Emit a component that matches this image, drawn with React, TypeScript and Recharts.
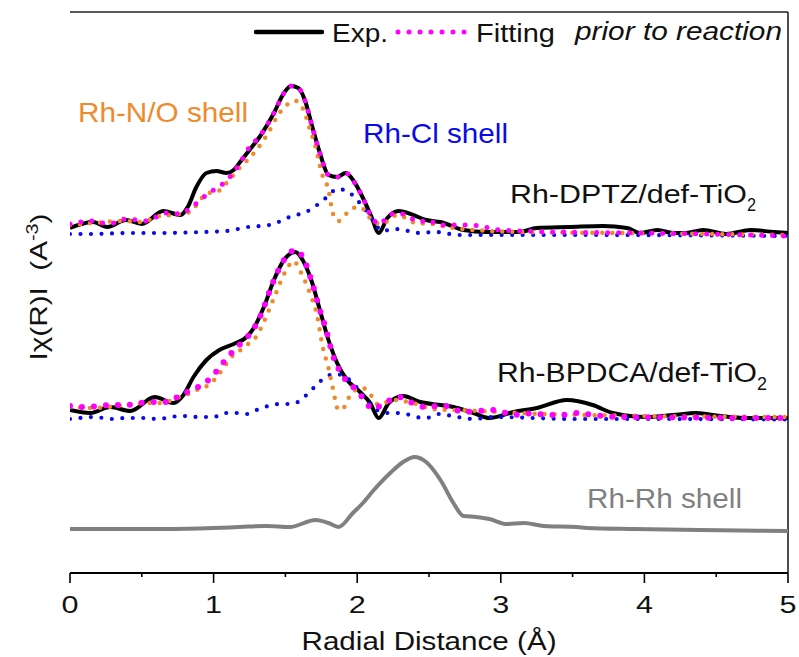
import { LineChart, Line, XAxis, YAxis } from 'recharts';

const FONT = '"Liberation Sans", Arial, sans-serif';
const ORANGE = '#ef8a2c';
const BLUE = '#0a0ae8';
const MAGENTA = '#ff00ff';
const GRAY = '#808080';

// x ticks (major + minor)
const xTicks = [0, 0.5, 1, 1.5, 2, 2.5, 3, 3.5, 4, 4.5, 5];

// Rh-DPTZ/def-TiO2 (offset upper curve)
const dptzExpR = [0, 0.16, 0.26, 0.39, 0.5, 0.65, 0.77, 0.82, 0.88, 0.95, 1.02, 1.09, 1.14, 1.19, 1.25, 1.32, 1.42, 1.49, 1.54, 1.59, 1.64, 1.68, 1.74, 1.8, 1.86, 1.92, 1.98, 2.04, 2.1, 2.15, 2.21, 2.29, 2.39, 2.48, 2.58, 2.74, 2.9, 3.13, 3.25, 3.48, 3.71, 3.88, 3.97, 4.09, 4.2, 4.29, 4.41, 4.57, 4.74, 4.9, 5];
const dptzExpV = [345, 351, 346, 353, 349, 362, 358, 366, 386, 400, 402, 400, 403, 412, 423, 436, 460, 480, 487, 485, 471, 450, 420, 398, 396, 400, 391, 375, 356, 340, 355, 362, 358, 353, 351, 343, 341, 341, 345, 346, 347, 345, 340, 343, 340, 340, 343, 339, 343, 341, 340];

const dptzFitR = [0, 0.08, 0.16, 0.23, 0.31, 0.39, 0.46, 0.53, 0.6, 0.68, 0.77, 0.82, 0.95, 1.02, 1.08, 1.13, 1.2, 1.25, 1.31, 1.42, 1.49, 1.54, 1.59, 1.64, 1.68, 1.74, 1.8, 1.86, 1.92, 1.98, 2.04, 2.1, 2.16, 2.22, 2.29, 2.36, 2.43, 2.5, 2.56, 2.79, 3, 3.4, 4, 4.6, 5];
const dptzFitV = [349, 351, 352, 350, 350, 354, 353, 352, 356, 360, 359, 363, 378, 385, 391, 399, 414, 426, 435, 460, 480, 487, 485, 471, 450, 420, 398, 396, 400, 391, 375, 356, 349, 358, 360, 356, 351, 353, 348, 348, 343, 341, 340, 338.5, 337];

const dptzNOR = [0, 0.09, 0.16, 0.39, 0.49, 0.63, 0.7, 0.84, 0.89, 0.96, 1.02, 1.09, 1.18, 1.23, 1.33, 1.38, 1.45, 1.51, 1.57, 1.62, 1.67, 1.71, 1.75, 1.8, 1.83, 1.87, 1.93, 2, 2.05, 2.1, 2.17, 2.28, 2.41, 2.52, 2.67, 3.13, 3.83, 5];
const dptzNOV = [348, 349, 350, 352, 351, 357, 358, 361, 370, 380, 381, 390, 405, 412, 429, 440, 458, 468, 472, 465, 444, 426, 401, 383, 360, 352, 360, 366, 363, 353, 349, 358, 350, 349, 345, 341, 340, 338];

const dptzClR = [0, 0.16, 0.39, 0.63, 0.93, 1.09, 1.24, 1.39, 1.53, 1.67, 1.73, 1.79, 1.86, 1.93, 1.98, 2.04, 2.1, 2.13, 2.18, 2.25, 2.33, 2.4, 2.55, 2.7, 3.5, 5];
const dptzClV = [339, 339, 340, 340, 341, 342, 346, 348, 356, 363, 369, 376, 384, 382, 376, 366, 355, 348, 342, 344, 343, 340, 341, 338, 338, 337];

// Rh-BPDCA/def-TiO2 (offset middle curve)
const bpdcaExpR = [0, 0.14, 0.28, 0.42, 0.59, 0.72, 0.79, 0.86, 0.95, 1.04, 1.14, 1.23, 1.28, 1.35, 1.42, 1.49, 1.57, 1.62, 1.68, 1.74, 1.8, 1.86, 1.93, 2.02, 2.09, 2.15, 2.22, 2.32, 2.44, 2.58, 2.67, 2.81, 2.92, 3.09, 3.25, 3.46, 3.64, 3.78, 4.02, 4.2, 4.36, 4.53, 4.71, 5];
const bpdcaExpV = [163, 160, 166, 162, 176, 170, 178, 196, 213, 223, 229, 236, 245, 266, 293, 313, 321, 313, 293, 263, 233, 210, 193, 181, 170, 155, 170, 177, 171, 168, 166, 160, 155, 161, 165, 173, 168, 160, 156, 158, 160, 157, 155, 155];

const bpdcaFitR = [0, 0.1, 0.2, 0.3, 0.39, 0.49, 0.59, 0.68, 0.77, 0.86, 0.94, 1.01, 1.07, 1.13, 1.2, 1.27, 1.32, 1.42, 1.49, 1.57, 1.64, 1.68, 1.74, 1.78, 1.83, 1.91, 1.98, 2.04, 2.11, 2.19, 2.29, 2.37, 2.47, 2.56, 2.62, 2.74, 2.84, 2.94, 3.04, 3.13, 3.22, 3.32, 3.41, 3.53, 3.64, 3.83, 4.3, 4.76, 5];
const bpdcaFitV = [167, 166, 167, 168, 168, 170, 171, 171, 178, 184, 190, 200, 211, 221, 231, 242, 255, 293, 313, 323, 310, 293, 263, 245, 218, 195, 185, 175, 164, 170, 176, 171, 166, 167, 167, 161, 162, 163, 160, 158, 160, 158, 158, 160, 158, 156, 155.5, 155, 155];

const bpdcaNOR = [0, 0.16, 0.53, 0.63, 0.76, 0.84, 0.91, 0.97, 1.02, 1.07, 1.11, 1.17, 1.23, 1.29, 1.33, 1.42, 1.51, 1.556, 1.61, 1.67, 1.72, 1.76, 1.8, 1.83, 1.87, 1.91, 1.96, 2.04, 2.1, 2.15, 2.21, 2.28, 2.35, 2.44, 2.51, 2.7, 3, 3.3, 3.6, 4, 5];
const bpdcaNOV = [166, 165, 170, 170, 176, 180, 185, 188, 196, 205, 214, 221, 228, 235, 245, 275, 304, 312, 300, 280, 258, 226, 205, 185, 163, 166, 180, 185, 177, 168, 171, 173, 171, 168, 164, 163, 161, 159, 158, 157, 156];

const bpdcaClR = [0, 0.07, 0.16, 0.3, 0.39, 0.5, 0.62, 0.7, 0.78, 0.9, 1, 1.08, 1.16, 1.23, 1.3, 1.38, 1.46, 1.53, 1.6, 1.66, 1.71, 1.78, 1.85, 1.92, 2, 2.08, 2.2, 2.27, 2.34, 2.41, 2.48, 2.57, 2.66, 2.74, 2.81, 2.95, 3.5, 4, 5];
const bpdcaClV = [154, 155, 156, 154, 155, 155, 154, 156, 157, 156, 156, 160, 160, 159, 163, 167, 169, 169, 172, 180, 187, 196, 199, 196, 185, 170, 160, 160, 159, 156, 155, 159, 157, 155, 154, 156, 154, 154, 153.5];

// Rh-Rh shell reference (bottom curve)
const rhRhR = [0, 0.67, 1, 1.18, 1.37, 1.53, 1.71, 1.8, 1.87, 1.97, 2.04, 2.11, 2.23, 2.32, 2.4, 2.48, 2.58, 2.67, 2.74, 2.83, 2.92, 3.04, 3.16, 3.3, 3.53, 3.6, 3.92, 4.39, 5];
const rhRhV = [44, 44, 45, 46, 47, 46, 53, 50, 46, 60, 70, 82, 100, 111, 116, 111, 93, 70, 57, 56, 54, 49, 50, 47, 46, 45, 44, 43, 42];

const toPoints = (r: number[], v: number[]) => r.map((x, i) => ({ r: x, v: v[i] }));

const XTick = (props: any) => {
  const { x, y, payload } = props;
  const major = Number.isInteger(payload.value);
  return (
    <g>
      <line x1={x} x2={x} y1={y} y2={y + (major ? 10 : 4)} stroke="#000" strokeWidth={1.6} />
      {major && (
        <text x={x} y={y + 40} textAnchor="middle" fontSize={23} fontFamily={FONT} fill="#111"
          textLength={17} lengthAdjust="spacingAndGlyphs">
          {payload.value}
        </text>
      )}
    </g>
  );
};

const Label = ({ x, y, size, len, fill = '#111', italic = false, children }: any) => (
  <text x={x} y={y} fontSize={size} fontFamily={FONT} fill={fill} fontStyle={italic ? 'italic' : 'normal'}
    textLength={len} lengthAdjust="spacingAndGlyphs">
    {children}
  </text>
);

const Decorations = () => (
  <g>
    {/* frame top and right */}
    <line x1={70} x2={788} y1={12} y2={12} stroke="#222" strokeWidth={1.6} />
    <line x1={788} x2={788} y1={12} y2={573} stroke="#222" strokeWidth={1.6} />

    {/* legend */}
    <line x1={256} x2={322} y1={32} y2={32} stroke="#000" strokeWidth={4.5} strokeLinecap="round" />
    <Label x={332} y={42} size={26} len={56}>Exp.</Label>
    <line x1={398} x2={468} y1={32} y2={32} stroke={MAGENTA} strokeWidth={5} strokeLinecap="round" strokeDasharray="0 11" />
    <Label x={476} y={42} size={26} len={79}>Fitting</Label>
    <Label x={575} y={40} size={25} len={207} italic>prior to reaction</Label>

    <Label x={78} y={122} size={28} len={170} fill={ORANGE}>Rh-N/O shell</Label>
    <Label x={363} y={143} size={28} len={145} fill={BLUE}>Rh-Cl shell</Label>

    <Label x={510} y={203} size={26} len={237}>Rh-DPTZ/def-TiO</Label>
    <Label x={747} y={211} size={18} len={9}>2</Label>
    <Label x={497} y={382} size={27} len={260}>Rh-BPDCA/def-TiO</Label>
    <Label x={757} y={390} size={18} len={10}>2</Label>
    <Label x={587} y={508} size={28} len={155} fill={GRAY}>Rh-Rh shell</Label>

    {/* y axis title */}
    <text x={47} y={287} transform="rotate(-90 47 287)" textAnchor="middle" fontSize={24} fontFamily={FONT}
      fill="#111" textLength={147} lengthAdjust="spacingAndGlyphs">
      Iχ(R)I{'\u00a0\u00a0'}(A<tspan dy={-9} fontSize={16}>-3</tspan><tspan dy={9}>)</tspan>
    </text>

    {/* x axis title */}
    <text x={429} y={650} textAnchor="middle" fontSize={25} fontFamily={FONT} fill="#111"
      textLength={255} lengthAdjust="spacingAndGlyphs">
      Radial Distance (Å)
    </text>
  </g>
);

const dotted = (color: string, width: number, gap: number) => ({
  stroke: color,
  strokeWidth: width,
  strokeLinecap: 'round' as const,
  strokeDasharray: `0 ${gap}`,
});

const App = () => {
  return (
    <div style={{ position: 'absolute', left: 0, top: 0, width: 799, height: 657, background: '#fff' }}>
      <LineChart width={799} height={657} margin={{ top: 12, right: 11, left: 70, bottom: 0 }}>
        <XAxis
          type="number"
          dataKey="r"
          domain={[0, 5]}
          ticks={xTicks}
          interval={0}
          height={84}
          tickLine={false}
          tickSize={0}
          tickMargin={0}
          tick={<XTick />}
          axisLine={{ stroke: '#000', strokeWidth: 2 }}
          allowDataOverflow
        />
        <YAxis
          type="number"
          domain={[0, 561]}
          width={0}
          tick={false}
          tickLine={false}
          axisLine={{ stroke: '#000', strokeWidth: 2 }}
          allowDataOverflow
        />
        <Line data={toPoints(rhRhR, rhRhV)} dataKey="v" type="monotone" stroke={GRAY} strokeWidth={4} dot={false} isAnimationActive={false} />

        <Line data={toPoints(dptzExpR, dptzExpV)} dataKey="v" type="monotone" stroke="#000" strokeWidth={4} dot={false} isAnimationActive={false} />
        <Line data={toPoints(bpdcaExpR, bpdcaExpV)} dataKey="v" type="monotone" stroke="#000" strokeWidth={4} dot={false} isAnimationActive={false} />

        <Line data={toPoints(dptzClR, dptzClV)} dataKey="v" type="monotone" {...dotted(BLUE, 4.2, 10.5)} dot={false} isAnimationActive={false} />
        <Line data={toPoints(bpdcaClR, bpdcaClV)} dataKey="v" type="monotone" {...dotted(BLUE, 4.2, 10.5)} dot={false} isAnimationActive={false} />

        <Line data={toPoints(dptzNOR, dptzNOV)} dataKey="v" type="monotone" {...dotted(ORANGE, 4.5, 10)} dot={false} isAnimationActive={false} />
        <Line data={toPoints(bpdcaNOR, bpdcaNOV)} dataKey="v" type="monotone" {...dotted(ORANGE, 4.5, 10)} dot={false} isAnimationActive={false} />

        <Line data={toPoints(dptzFitR, dptzFitV)} dataKey="v" type="monotone" {...dotted(MAGENTA, 5, 11)} dot={false} isAnimationActive={false} />
        <Line data={toPoints(bpdcaFitR, bpdcaFitV)} dataKey="v" type="monotone" {...dotted(MAGENTA, 6, 12)} dot={false} isAnimationActive={false} />

        <Decorations />
      </LineChart>
    </div>
  );
};

export default App;
